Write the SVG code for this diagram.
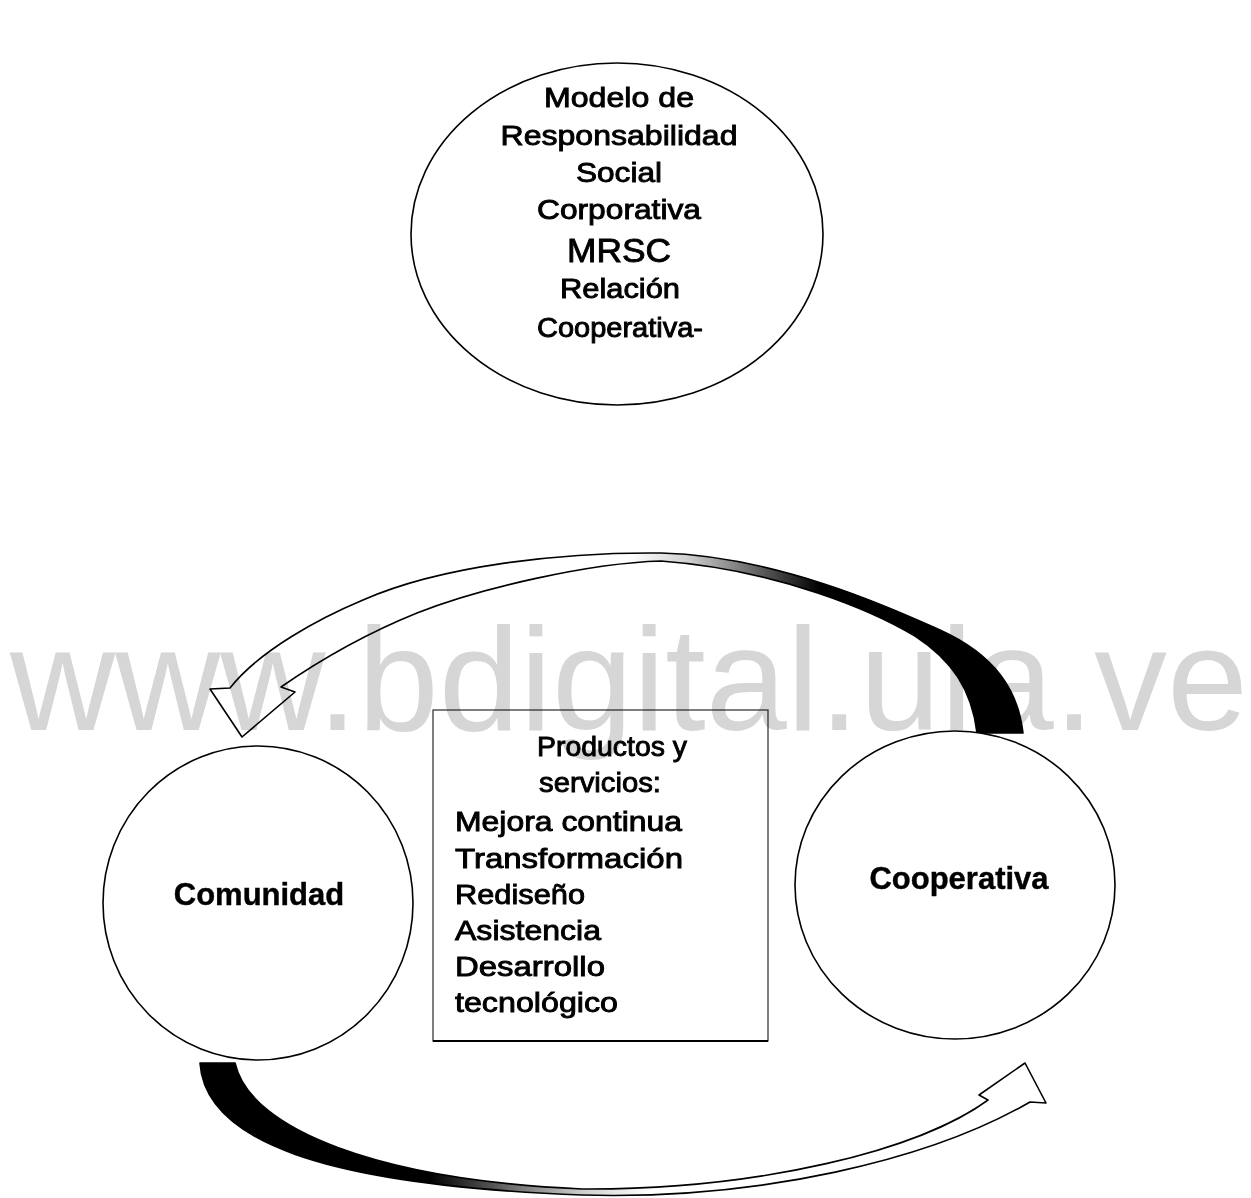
<svg xmlns="http://www.w3.org/2000/svg" width="1251" height="1198" viewBox="0 0 1251 1198">
<style>
.node { fill:#ffffff; stroke:#000000; stroke-width:1.6; }
.box { fill:#ffffff; stroke:#3a3a3a; stroke-width:1.3; }
.boxbottom { stroke:#000000; stroke-width:2.2; }
.t { font-family:"Liberation Sans", Arial, sans-serif; font-size:28px; fill:#000000; stroke:#000000; stroke-width:0.9; }
.tc { text-anchor:middle; }
.tb { font-family:"Liberation Sans", Arial, sans-serif; font-size:31px; font-weight:bold; fill:#000000; stroke:#000000; stroke-width:0.4; text-anchor:middle; }
.arrow { stroke:#000000; stroke-width:1.6; stroke-linejoin:round; }
.wm { font-family:"Liberation Sans", Arial, sans-serif; font-size:146px; fill:#d6d6d6; mix-blend-mode:multiply; }
</style>
<defs>
<linearGradient id="gTop" gradientUnits="userSpaceOnUse" x1="630" y1="0" x2="820" y2="0">
<stop offset="0" stop-color="#ffffff"/>
<stop offset="0.3" stop-color="#d0d0d0"/>
<stop offset="1" stop-color="#000000"/>
</linearGradient>
<linearGradient id="gBot" gradientUnits="userSpaceOnUse" x1="430" y1="0" x2="650" y2="0">
<stop offset="0" stop-color="#000000"/>
<stop offset="0.7" stop-color="#d0d0d0"/>
<stop offset="1" stop-color="#ffffff"/>
</linearGradient>
</defs>
<rect x="0" y="0" width="1251" height="1198" fill="#ffffff"/>

<g id="connectors">
<path id="arrow-top" class="arrow" fill="url(#gTop)" d="M1023,733 C1018,690 995,655 940,630 C900,612 780,556 661,553 C560,552 440,566 363,600 C320,618 260,650 230,688 L210,689 L242,737 L295,692 L281,687 C320,660 370,632 417,613 C480,588 590,563 661,561 C780,570 875,612 915,636 C952,660 972,690 977,733 Z"/>
<path id="arrow-bottom" class="arrow" fill="url(#gBot)" d="M200,1063 C205,1140 320,1185 582,1195 C760,1200 930,1160 1030,1102 L1046,1103 L1025,1063 L979,1095 L988,1100 C920,1150 760,1190 582,1189 C380,1180 250,1130 235,1063 Z"/>
</g>

<g id="node-mrsc">
<ellipse class="node" cx="617" cy="234" rx="206" ry="171"/>
<text class="t tc" x="619" y="107" textLength="150" lengthAdjust="spacingAndGlyphs">Modelo de</text>
<text class="t tc" x="619" y="145" textLength="237" lengthAdjust="spacingAndGlyphs">Responsabilidad</text>
<text class="t tc" x="619" y="182" textLength="86" lengthAdjust="spacingAndGlyphs">Social</text>
<text class="t tc" x="619" y="219" textLength="164" lengthAdjust="spacingAndGlyphs">Corporativa</text>
<text class="t tc" x="619" y="262" style="font-size:34px" textLength="104" lengthAdjust="spacingAndGlyphs">MRSC</text>
<text class="t tc" x="620" y="298" style="font-size:27px" textLength="120" lengthAdjust="spacingAndGlyphs">Relación</text>
<text class="t tc" x="620" y="337" style="font-size:27px" textLength="166" lengthAdjust="spacingAndGlyphs">Cooperativa-</text>
</g>

<g id="node-comunidad">
<ellipse class="node" cx="258" cy="903" rx="155" ry="157"/>
<text class="tb" x="259" y="905">Comunidad</text>
</g>

<g id="node-cooperativa">
<ellipse class="node" cx="955" cy="885" rx="160" ry="154"/>
<text class="tb" x="959" y="889">Cooperativa</text>
</g>

<g id="node-productos">
<rect class="box" x="433" y="710" width="335" height="331"/>
<line class="boxbottom" x1="433" y1="1041" x2="768" y2="1041"/>
<text class="t tc" x="612" y="756" textLength="150" lengthAdjust="spacingAndGlyphs">Productos y</text>
<text class="t tc" x="600" y="792" textLength="122" lengthAdjust="spacingAndGlyphs">servicios:</text>
<text class="t" x="455" y="831" textLength="227" lengthAdjust="spacingAndGlyphs">Mejora continua</text>
<text class="t" x="455" y="868" textLength="228" lengthAdjust="spacingAndGlyphs">Transformación</text>
<text class="t" x="455" y="904" textLength="130" lengthAdjust="spacingAndGlyphs">Rediseño</text>
<text class="t" x="455" y="940" textLength="146" lengthAdjust="spacingAndGlyphs">Asistencia</text>
<text class="t" x="455" y="976" textLength="150" lengthAdjust="spacingAndGlyphs">Desarrollo</text>
<text class="t" x="455" y="1012" textLength="163" lengthAdjust="spacingAndGlyphs">tecnológico</text>
</g>

<g id="watermark">
<text class="wm" x="10" y="730" textLength="1238" lengthAdjust="spacingAndGlyphs">www.bdigital.ula.ve</text>
</g>
</svg>
